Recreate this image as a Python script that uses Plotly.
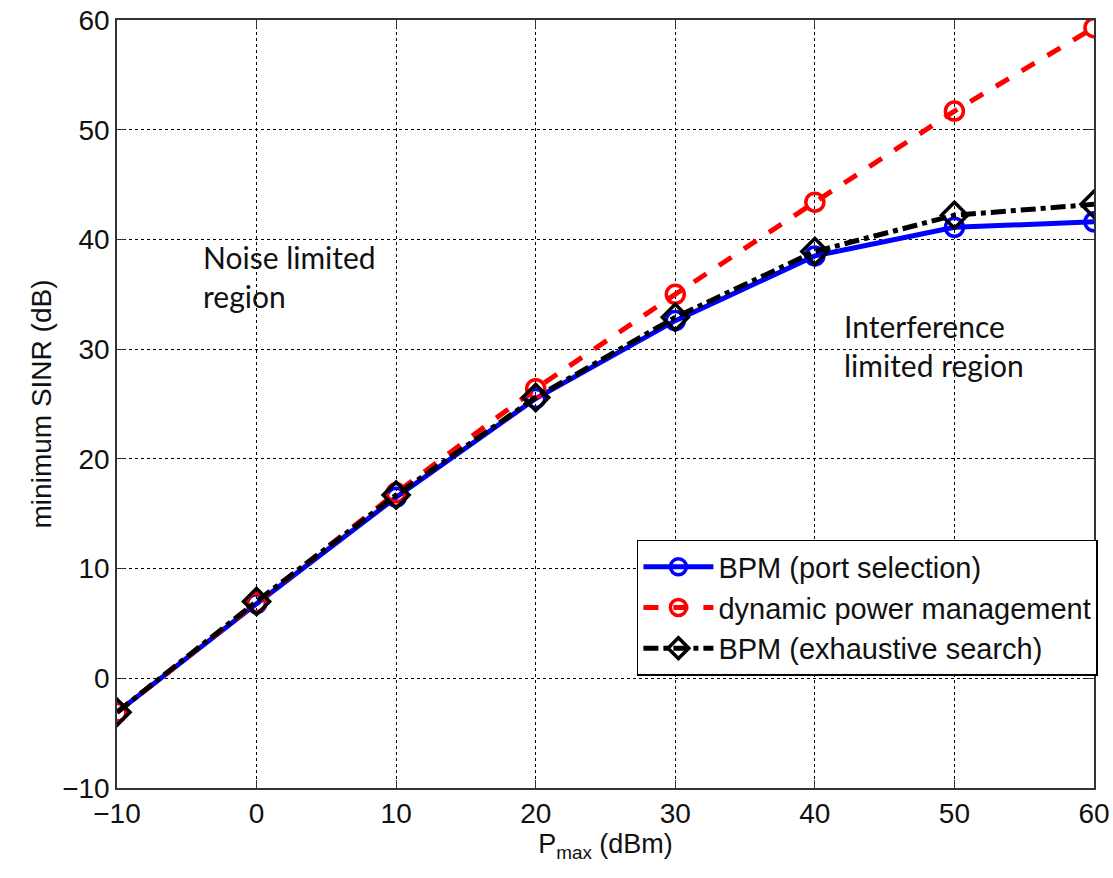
import plotly.graph_objects as go

p_max = [-10, 0, 10, 20, 30, 40, 50, 60]
bpm_port = [-3.1, 6.8, 16.5, 25.5, 32.6, 38.5, 41.1, 41.6]
dyn_power = [-3.1, 6.9, 16.9, 26.4, 35.0, 43.4, 51.7, 59.3]
bpm_exh = [-3.1, 7.0, 16.7, 25.6, 32.9, 38.9, 42.2, 43.2]

x_ticks = [-10, 0, 10, 20, 30, 40, 50, 60]
y_ticks = [-10, 0, 10, 20, 30, 40, 50, 60]

fig = go.Figure()
fig.add_trace(go.Scatter(x=p_max, y=bpm_port, name="BPM (port selection)", mode="lines+markers",
                         line=dict(color="#0000ff", width=5),
                         marker=dict(symbol="circle-open", size=18, color="#0000ff", line=dict(width=3.5))))
fig.add_trace(go.Scatter(x=p_max, y=dyn_power, name="dynamic power management", mode="lines+markers",
                         line=dict(color="#ff0000", width=5, dash="dash"),
                         marker=dict(symbol="circle-open", size=18, color="#ff0000", line=dict(width=3.5))))
fig.add_trace(go.Scatter(x=p_max, y=bpm_exh, name="BPM (exhaustive search)", mode="lines+markers",
                         line=dict(color="#000000", width=5, dash="dashdot"),
                         marker=dict(symbol="diamond-open", size=20, color="#000000", line=dict(width=3.5))))

axis_common = dict(showline=True, linecolor="#333333", linewidth=1.5, mirror="ticks",
                   ticks="inside", ticklen=8, tickcolor="#333333",
                   showgrid=True, gridcolor="#000000", griddash="dot", gridwidth=1,
                   zeroline=False, tickfont=dict(family="Liberation Sans, Arial", size=28, color="#111111"))

fig.update_xaxes(range=[-10, 60], tickvals=x_ticks, ticktext=["\u221210" if v < 0 else str(v) for v in x_ticks],
                 title=dict(text="P<sub>max</sub> (dBm)", font=dict(family="Liberation Sans, Arial", size=27, color="#111111"), standoff=6),
                 automargin=False, **axis_common)
fig.update_yaxes(range=[-10, 60], tickvals=y_ticks, ticktext=["\u221210" if v < 0 else str(v) for v in y_ticks],
                 title=dict(text="minimum SINR (dB)", font=dict(family="Liberation Sans, Arial", size=28, color="#111111"), standoff=2),
                 automargin=False, **axis_common)

fig.add_annotation(x=-3.95, y=40.25, xref="x", yref="y", xanchor="left", yanchor="top", align="left",
                   text="Noise limited<br>region", showarrow=False,
                   font=dict(family="Lato, Open Sans", size=30, color="#111111"))
fig.add_annotation(x=41.95, y=33.9, xref="x", yref="y", xanchor="left", yanchor="top", align="left",
                   text="Interference<br>limited region", showarrow=False,
                   font=dict(family="Lato, Open Sans", size=30, color="#111111"))

fig.update_layout(
    width=1113, height=878,
    margin=dict(l=117, r=19, t=20, b=90),
    plot_bgcolor="white", paper_bgcolor="white",
    legend=dict(x=1.004, y=0.323, xanchor="right", yanchor="top",
                bordercolor="#000000", borderwidth=1.5, bgcolor="white",
                font=dict(family="Liberation Sans, Arial", size=29, color="#111111"),
                itemwidth=70, tracegroupgap=0),
)

fig.write_html("out.html")
